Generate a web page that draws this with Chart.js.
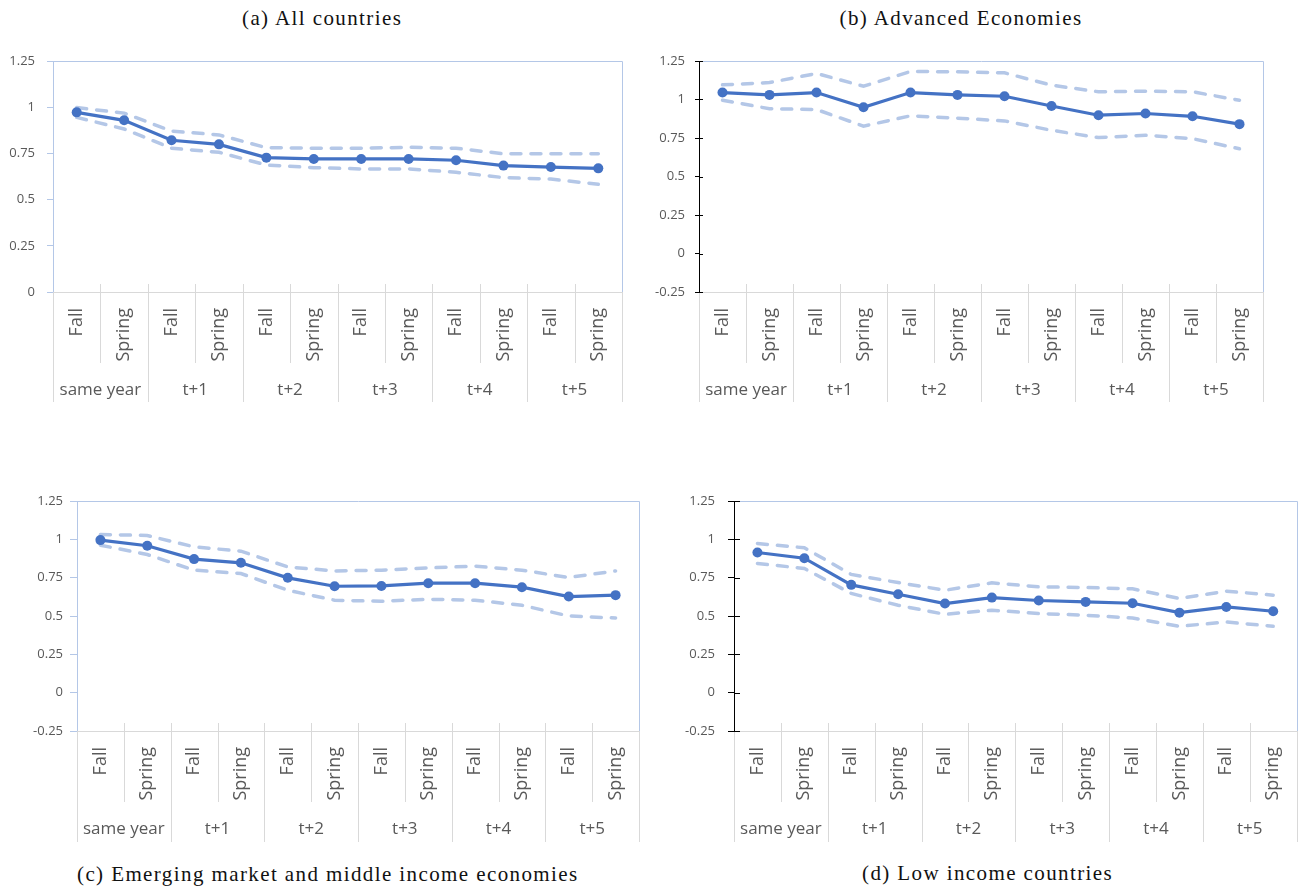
<!DOCTYPE html>
<html>
<head>
<meta charset="utf-8">
<script src="https://cdn.jsdelivr.net/npm/chart.js@4.4.1/dist/chart.umd.min.js"></script>
<style>
  html, body { margin: 0; padding: 0; background: #fff; }
  body { width: 1303px; height: 888px; position: relative; overflow: hidden; }
  canvas { position: absolute; }
  .ttl { position: absolute; font-family: "Liberation Serif", serif; font-size: 21px; letter-spacing: 1.4px; color: #111; white-space: nowrap; line-height: 24px; }
</style>
</head>
<body>
<div class="ttl" id="ta">(a) All countries</div>
<div class="ttl" id="tb">(b) Advanced Economies</div>
<div class="ttl" id="tc">(c) Emerging market and middle income economies</div>
<div class="ttl" id="td">(d) Low income countries</div>
<canvas id="ca" width="640" height="380" style="left:0px;top:40px"></canvas>
<canvas id="cb" width="663" height="380" style="left:640px;top:40px"></canvas>
<canvas id="cc" width="660" height="380" style="left:0px;top:480px"></canvas>
<canvas id="cd" width="643" height="380" style="left:660px;top:480px"></canvas>
<script>
// ---- data ----
const categories = ['Fall','Spring','Fall','Spring','Fall','Spring','Fall','Spring','Fall','Spring','Fall','Spring'];
const groups = ['same year','t+1','t+2','t+3','t+4','t+5'];

const yTicksA = [0, 0.25, 0.5, 0.75, 1, 1.25];
const yTicksB = [-0.25, 0, 0.25, 0.5, 0.75, 1, 1.25];

const allMain  = [0.972, 0.929, 0.821, 0.799, 0.727, 0.720, 0.720, 0.720, 0.713, 0.684, 0.676, 0.669];
const allUpper = [0.998, 0.968, 0.871, 0.850, 0.781, 0.778, 0.778, 0.783, 0.778, 0.748, 0.748, 0.748];
const allLower = [0.945, 0.882, 0.778, 0.756, 0.687, 0.673, 0.666, 0.666, 0.648, 0.619, 0.611, 0.583];

const advMain  = [1.045, 1.030, 1.045, 0.950, 1.045, 1.030, 1.021, 0.958, 0.898, 0.909, 0.891, 0.840];
const advUpper = [1.095, 1.110, 1.169, 1.086, 1.182, 1.180, 1.173, 1.093, 1.050, 1.054, 1.050, 0.995];
const advLower = [0.995, 0.940, 0.935, 0.827, 0.894, 0.879, 0.861, 0.800, 0.753, 0.768, 0.746, 0.680];

const emMain   = [0.995, 0.958, 0.871, 0.847, 0.749, 0.694, 0.696, 0.714, 0.714, 0.688, 0.627, 0.636];
const emUpper  = [1.032, 1.025, 0.951, 0.923, 0.820, 0.794, 0.799, 0.814, 0.825, 0.799, 0.751, 0.794];
const emLower  = [0.962, 0.901, 0.799, 0.777, 0.668, 0.603, 0.596, 0.609, 0.603, 0.570, 0.500, 0.487];

const lowMain  = [0.914, 0.877, 0.703, 0.642, 0.581, 0.620, 0.601, 0.592, 0.583, 0.522, 0.559, 0.531];
const lowUpper = [0.973, 0.945, 0.771, 0.718, 0.668, 0.716, 0.690, 0.686, 0.677, 0.614, 0.662, 0.636];
const lowLower = [0.843, 0.810, 0.647, 0.570, 0.511, 0.538, 0.516, 0.505, 0.487, 0.433, 0.461, 0.433];

// ---- styling ----
const MAIN = '#4472C4';
const BAND = '#B4C7E7';
const FRAME = '#B4C7E7';
const GRIDGRAY = '#D9D9D9';
const LABEL = '#595959';
const SANS = '"Open Sans", "Noto Sans", sans-serif';

const tablePlugin = {
  id: 'catTable',
  afterDraw(chart, args, opts) {
    const ctx = chart.ctx, ca = chart.chartArea;
    const x = chart.scales.x, x2 = chart.scales.x2, y = chart.scales.y;
    const n = x.getLabels().length;
    const w = (x.right - x.left) / n;
    ctx.save();
    ctx.lineWidth = 1;
    ctx.strokeStyle = GRIDGRAY;
    for (let b = 0; b <= n; b++) {
      const px = Math.round(x.left + b * w) + 0.5;
      const y0 = (b === 0 || b === n) ? ca.bottom : ca.bottom - 8;
      const y1 = (b % 2 === 0) ? x2.bottom : x.bottom;
      ctx.beginPath(); ctx.moveTo(px, y0); ctx.lineTo(px, y1); ctx.stroke();
    }
    // plot frame (top and right)
    ctx.strokeStyle = FRAME;
    const l = Math.round(ca.left) + 0.5, r = Math.round(ca.right) + 0.5, t = Math.round(ca.top) + 0.5;
    ctx.beginPath(); ctx.moveTo(l, t); ctx.lineTo(r, t); ctx.lineTo(r, Math.round(ca.bottom)); ctx.stroke();
    // inner half of crossing ticks
    if (opts.cross) {
      ctx.strokeStyle = opts.crossColor;
      y.ticks.forEach(tk => {
        const py = Math.round(y.getPixelForValue(tk.value)) + 0.5;
        ctx.beginPath(); ctx.moveTo(ca.left, py); ctx.lineTo(ca.left + opts.cross, py); ctx.stroke();
      });
    }
    ctx.restore();
  }
};

function makeChart(id, main, upper, lower, cfg) {
  const yTicks = cfg.yTicks;
  return new Chart(document.getElementById(id), {
    type: 'line',
    data: {
      labels: categories,
      datasets: [
        { data: main, borderColor: MAIN, backgroundColor: MAIN, borderWidth: 3.2,
          pointRadius: 5, pointBackgroundColor: MAIN, pointBorderWidth: 0, tension: 0 },
        { data: upper, borderColor: BAND, borderWidth: 3.5, borderDash: [10, 10],
          borderCapStyle: 'round', pointRadius: 0, tension: 0 },
        { data: lower, borderColor: BAND, borderWidth: 3.5, borderDash: [10, 10],
          borderCapStyle: 'round', pointRadius: 0, tension: 0 }
      ]
    },
    options: {
      responsive: false,
      animation: false,
      events: [],
      layout: { padding: cfg.padding },
      plugins: {
        legend: { display: false },
        tooltip: { enabled: false },
        catTable: { cross: cfg.cross || 0, crossColor: cfg.axisColor }
      },
      scales: {
        x: {
          type: 'category', position: 'bottom', offset: true, weight: 0,
          grid: { display: false },
          border: { display: true, color: GRIDGRAY, width: 1 },
          ticks: { autoSkip: false, minRotation: 90, maxRotation: 90, padding: 8,
                   color: LABEL, font: { family: SANS, size: 18 } },
          afterFit: s => { s.height = cfg.h1; }
        },
        x2: {
          type: 'category', position: 'bottom', offset: true, weight: 1,
          labels: groups,
          grid: { display: false },
          border: { display: false },
          ticks: { autoSkip: false, maxRotation: 0, minRotation: 0, padding: cfg.gpad,
                   color: LABEL, font: { family: SANS, size: 17 } },
          afterFit: s => { s.height = cfg.h2; }
        },
        y: {
          type: 'linear', min: yTicks[0], max: yTicks[yTicks.length - 1],
          afterBuildTicks: s => { s.ticks = yTicks.map(v => ({ value: v })); },
          grid: { display: true, drawOnChartArea: false, drawTicks: true,
                  tickLength: cfg.tickLen, color: cfg.axisColor, lineWidth: 1 },
          border: { display: true, color: cfg.axisColor, width: 1 },
          ticks: { padding: cfg.labPad, color: LABEL, font: { family: SANS, size: 13 },
                   callback: v => String(v) },
          afterFit: s => { s.width = cfg.yw; }
        }
      }
    },
    plugins: [tablePlugin]
  });
}

makeChart('ca', allMain, allUpper, allLower, {
  yTicks: yTicksA, padding: { left: 0, top: 21, right: 18, bottom: 18 },
  yw: 53, tickLen: 6, labPad: 12, axisColor: FRAME, h1: 71, h2: 39, gpad: 9
});
makeChart('cb', advMain, advUpper, advLower, {
  yTicks: yTicksB, padding: { left: 0, top: 21, right: 40, bottom: 18 },
  yw: 59, tickLen: 4, labPad: 10, axisColor: '#000000', cross: 4, h1: 71, h2: 39, gpad: 9
});
makeChart('cc', emMain, emUpper, emLower, {
  yTicks: yTicksB, padding: { left: 0, top: 21, right: 21, bottom: 18 },
  yw: 77, tickLen: 7, labPad: 7, axisColor: FRAME, h1: 71, h2: 40, gpad: 9
});
makeChart('cd', lowMain, lowUpper, lowLower, {
  yTicks: yTicksB, padding: { left: 0, top: 21, right: 5, bottom: 18 },
  yw: 74, tickLen: 6, labPad: 13, axisColor: '#000000', cross: 6, h1: 71, h2: 40, gpad: 9
});

// ---- titles ----
function place(id, cx, cy, anchorLeft) {
  const el = document.getElementById(id);
  const w = el.offsetWidth, h = el.offsetHeight;
  el.style.left = (anchorLeft ? cx : cx - w / 2) + 'px';
  el.style.top = (cy - h / 2) + 'px';
}
place('ta', 322, 18, false);
place('tb', 961, 18, false);
place('tc', 77, 874, true);
place('td', 862, 873, true);
</script>
</body>
</html>
